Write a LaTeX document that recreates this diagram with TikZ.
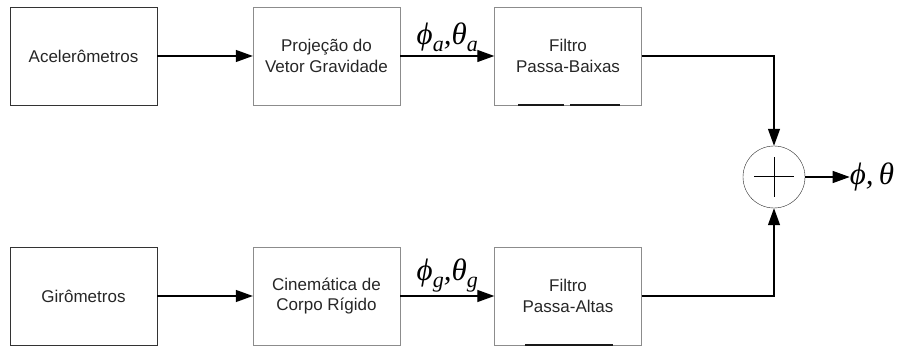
\documentclass[tikz,border=0pt]{standalone}
\usepackage{fontspec}
\setmainfont{Liberation Sans}
\newfontfamily\greekfont{Liberation Serif}
\usetikzlibrary{shapes,arrows,arrows.meta}
\tikzstyle{block} = [rectangle, draw=black!45, text=black!85, align=center,
    minimum width=147pt, minimum height=98pt, inner sep=0pt,
    font=\fontsize{17}{20.5}\selectfont]
\tikzstyle{sensor} = [block, draw=black!80]
\tikzstyle{sum} = [circle, draw=black!85, minimum size=62pt, inner sep=0pt]
\tikzstyle{line} = [draw, line width=1.2pt, -{Triangle[length=17pt,width=12pt]}]
\tikzstyle{angle} = [inner xsep=0pt, inner ysep=3.5pt, font=\greekfont\itshape\fontsize{31}{34}\selectfont]
\tikzstyle{glitch} = [line width=2pt, black!90]
\newcommand{\sub}[1]{\raisebox{-7pt}{\fontsize{22}{22}\selectfont #1}}
\begin{document}
\begin{tikzpicture}[node distance = 243pt, auto, x=1pt, y=-1pt]
    \useasboundingbox (0,0) rectangle (905,347);
    % Place nodes
    \node [sensor] (accel) at (83.5,56) {Acelerômetros};
    \node [block, right of=accel] (proj) {Projeção do\\Vetor Gravidade};
    \node [block, right of=proj, node distance=241.5pt] (lpf) {Filtro\\Passa-Baixas};

    \node [sensor, below of=accel, node distance=240pt] (gyro) {Girômetros};
    \node [block, right of=gyro] (kin) {Cinemática de\\Corpo Rígido};
    \node [block, right of=kin, node distance=241.5pt] (hpf) {Filtro\\Passa-Altas};

    \node [sum] (sum) at (774,177) {};
    \node [angle, right of=sum, node distance=98pt] (angles) {ϕ,\,θ};
    \draw [line width=1pt] ([xshift=-20pt]sum.center) -- ([xshift=20pt]sum.center);
    \draw [line width=1pt] ([yshift=-20pt]sum.center) -- ([yshift=20pt]sum.center);
    \draw [glitch] ([xshift=-50pt]lpf.south) -- ([xshift=-4pt]lpf.south);
    \draw [glitch] ([xshift=2pt]lpf.south) -- ([xshift=52pt]lpf.south);
    \draw [glitch] ([xshift=-43pt]hpf.south) -- ([xshift=45pt]hpf.south);
    % Draw edges
    \path [line] (accel) -- (proj);
    \path [line] (proj) -- node [angle] {ϕ\sub{a},θ\sub{a}} (lpf);
    \path [line] (lpf) -| (sum);
    \path [line] (gyro) -- (kin);
    \path [line] (kin) -- node [angle] {ϕ\sub{g},θ\sub{g}} (hpf);
    \path [line] (hpf) -| (sum);
    \path [line] (sum) -- (angles);
\end{tikzpicture}
\end{document}
